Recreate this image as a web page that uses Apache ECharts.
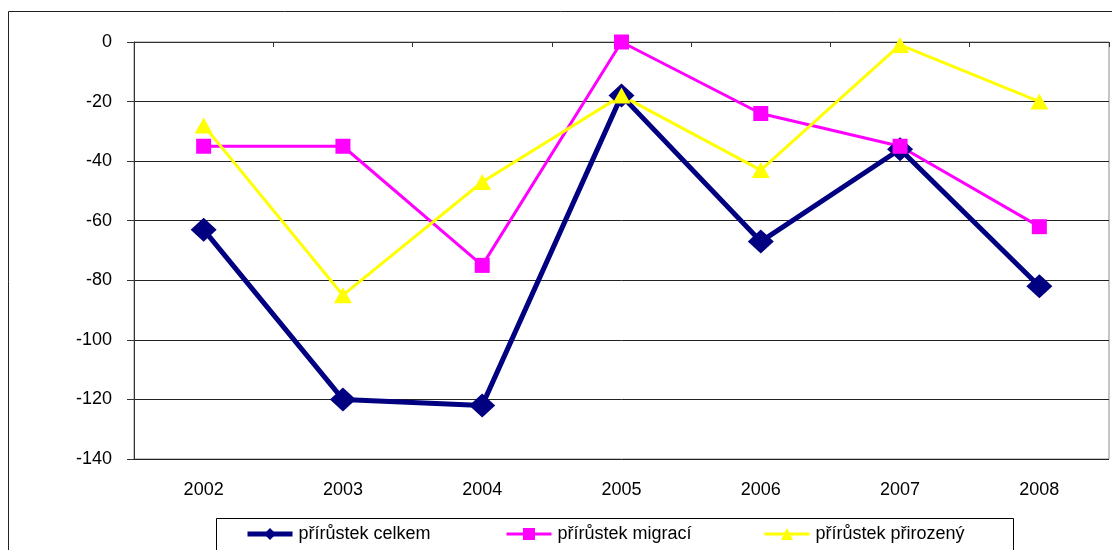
<!DOCTYPE html>
<html>
<head>
<meta charset="utf-8">
<script src="https://cdn.jsdelivr.net/npm/echarts@6/dist/echarts.min.js"></script>
<style>
  html, body { margin: 0; padding: 0; background: #fff; }
  #chart { width: 1112px; height: 550px; }
</style>
</head>
<body>
<div id="chart"></div>
<script>
var years = ['2002', '2003', '2004', '2005', '2006', '2007', '2008']
var celkem = [-63, -120, -122, -18, -67, -36, -82]
var migraci = [-35, -35, -75, 0, -24, -35, -62]
var prirozeny = [-28, -85, -47, -18, -43, -1, -20]
var names = ['přírůstek celkem', 'přírůstek migrací', 'přírůstek přirozený']

var font = 'Liberation Sans, Arial, sans-serif'
var myChart = echarts.init(document.getElementById('chart'))

var legendPos = [245, 505, 763]
var legendLine = [5, 3, 3]
var legends = []
for (var i = 0; i < names.length; i++) {
  legends.push({
    data: [{ name: names[i], lineStyle: { width: legendLine[i] } }],
    left: legendPos[i],
    top: 525,
    padding: 0,
    itemWidth: 45,
    itemHeight: 15,
    itemGap: 0,
    textStyle: { fontFamily: font, fontSize: 18, color: '#000', padding: [0, 0, 0, 1] }
  })
}

var option = {
  animation: false,
  backgroundColor: '#fff',
  grid: {
    left: 134,
    right: 3,
    top: 42,
    bottom: 91,
    show: true,
    borderColor: '#8c8c8c',
    borderWidth: 1
  },
  graphic: [
    {
      type: 'rect',
      shape: { x: 8.5, y: 11.5, width: 1200, height: 600 },
      style: { fill: 'none', stroke: '#222', lineWidth: 1 },
      silent: true
    },
    {
      type: 'rect',
      shape: { x: 216.5, y: 518.5, width: 797, height: 60 },
      style: { fill: 'none', stroke: '#000', lineWidth: 1 },
      silent: true
    }
  ],
  legend: legends,
  xAxis: {
    type: 'category',
    data: years,
    boundaryGap: true,
    axisLine: { lineStyle: { color: '#333', width: 1 } },
    axisTick: { show: true, length: 5, lineStyle: { color: '#333' } },
    axisLabel: { fontFamily: font, fontSize: 18, color: '#000', margin: 22 },
    splitLine: { show: false }
  },
  yAxis: {
    type: 'value',
    min: -140,
    max: 0,
    interval: 20,
    axisLine: { show: true, lineStyle: { color: '#333', width: 1 } },
    axisTick: { show: true, length: 7, lineStyle: { color: '#333' } },
    axisLabel: { fontFamily: font, fontSize: 18, color: '#000', margin: 22 },
    splitLine: { show: true, lineStyle: { color: '#222', width: 1 } }
  },
  series: [
    {
      name: names[0],
      type: 'line',
      data: celkem,
      symbol: 'diamond',
      symbolSize: [26, 24],
      itemStyle: { color: '#000080' },
      lineStyle: { color: '#000080', width: 5 }
    },
    {
      name: names[1],
      type: 'line',
      data: migraci,
      symbol: 'rect',
      symbolSize: 15,
      itemStyle: { color: '#ff00ff' },
      lineStyle: { color: '#ff00ff', width: 3 }
    },
    {
      name: names[2],
      type: 'line',
      data: prirozeny,
      symbol: 'triangle',
      symbolSize: [18, 16],
      itemStyle: { color: '#ffff00' },
      lineStyle: { color: '#ffff00', width: 3 }
    }
  ]
}
myChart.setOption(option)
</script>
</body>
</html>
